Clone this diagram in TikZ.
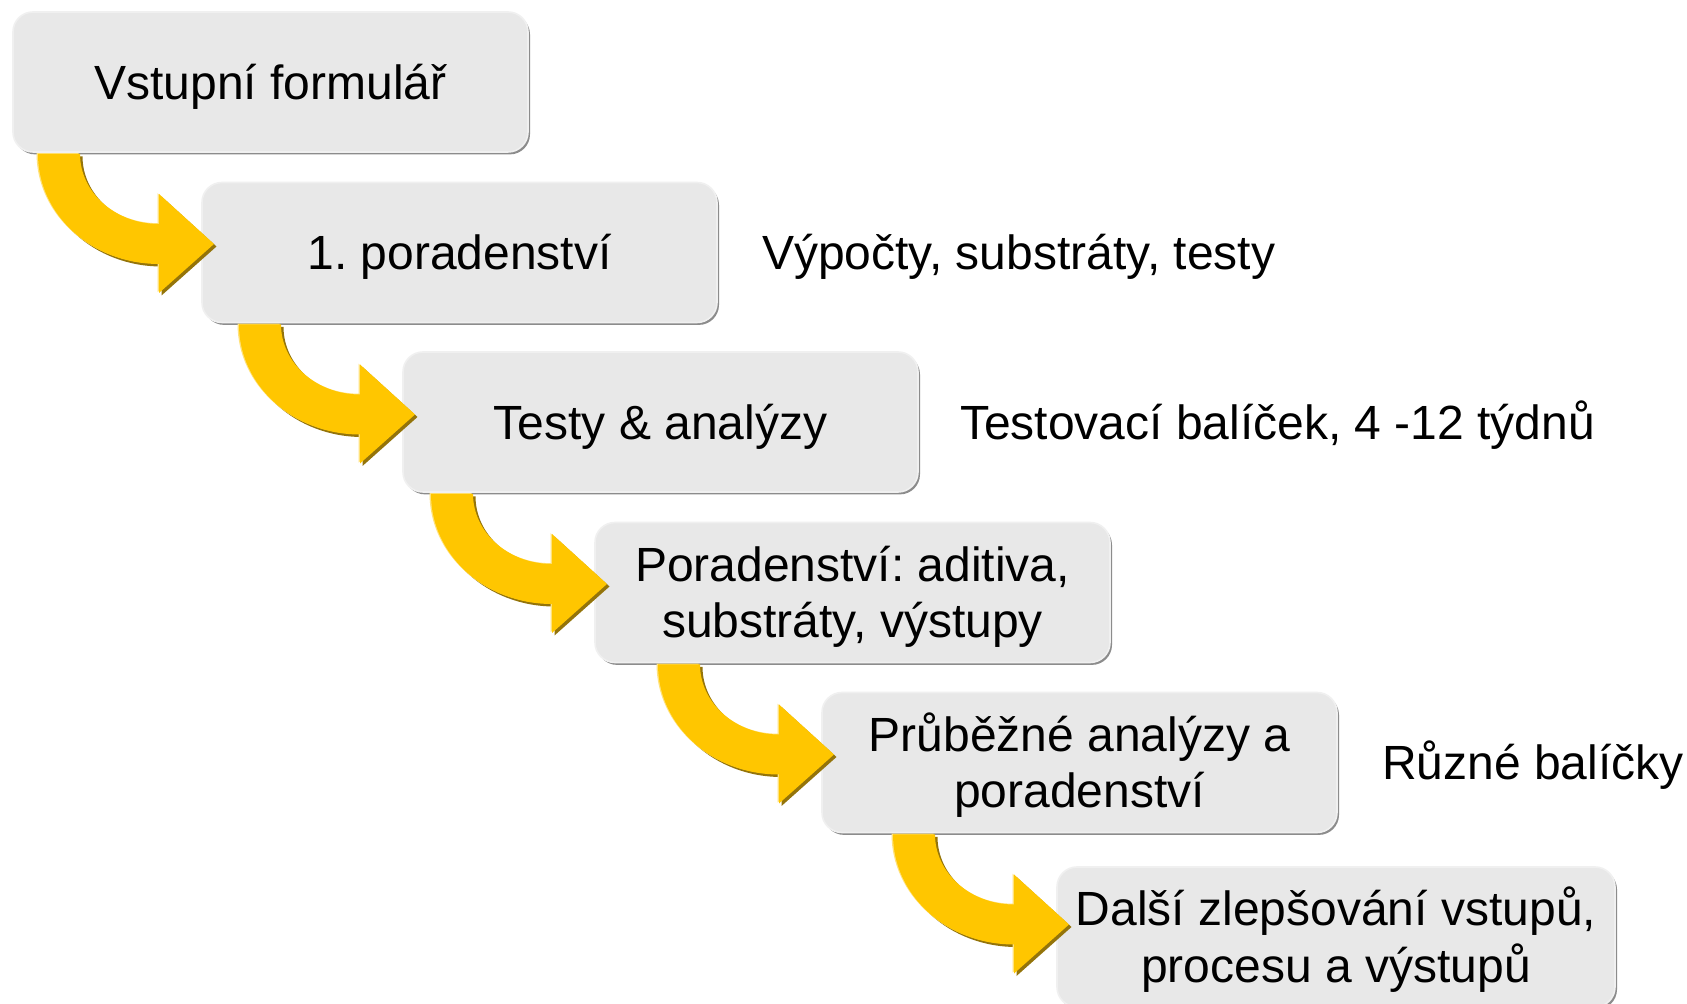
\documentclass[tikz,border=0pt]{standalone}
\usepackage{fontspec}
\setmainfont{Liberation Sans}
\usetikzlibrary{calc,shadows}
\frenchspacing
\definecolor{boxfill}{HTML}{E8E8E8}
\definecolor{boxedge}{HTML}{F0F0F0}
\definecolor{boxshadow}{HTML}{8C8C8C}
\definecolor{arrowgold}{HTML}{FFC600}
\definecolor{arrowdark}{HTML}{94740A}
\definecolor{arrowlight}{HTML}{FFE27A}
\tikzset{
  stepbox/.style={rectangle, rounded corners=10pt, fill=boxfill, draw=boxedge,
    line width=0.8pt, minimum width=257.5pt, minimum height=70pt,
    inner sep=0pt, outer sep=0pt,
    general shadow={fill=boxshadow, shadow xshift=1pt, shadow yshift=-1.2pt},
    font=\fontsize{24}{28.25}\selectfont\frenchspacing, text depth=0pt},
  oneline/.style={text height=17.2pt},
  twoline/.style={text height=45.45pt},
  sidelabel/.style={anchor=base west, inner sep=0pt, outer sep=0pt,
    font=\fontsize{24}{28.25}\selectfont\frenchspacing},
  arrowpath/.style={insert path={
    ($(#1)+(-121,2)$) .. controls ($(#1)+(-121,63)$) and ($(#1)+(-67,112)$) .. ($(#1)+(0,112)$)
    -- ($(#1)+(0,141)$) -- ($(#1)+(55,92)$) -- ($(#1)+(0,42)$) -- ($(#1)+(0,72)$)
    .. controls ($(#1)+(-44,72)$) and ($(#1)+(-79,40)$) .. ($(#1)+(-79,2)$) -- cycle}}
}
\begin{document}
\begin{tikzpicture}[x=0.5pt,y=-0.5pt]
\useasboundingbox (0,0) rectangle (1687,1004);
\fill[white] (0,0) rectangle (1687,1004);

\node[stepbox, oneline] (b1) at (270.5,82) {Vstupní formulář};
\node[stepbox, oneline] (b2) at (459.5,252.5) {1. poradenství};
\node[stepbox, oneline] (b3) at (660.5,422) {Testy \& analýzy};
\node[stepbox, twoline] (b4) at (852.5,592.5)
  {\begin{tabular}[b]{@{}c@{}}Poradenství: aditiva,\\substráty, výstupy\end{tabular}};
\node[stepbox, twoline] (b5) at (1079.5,762.5)
  {\begin{tabular}[b]{@{}c@{}}Průběžné analýzy a\\poradenství\end{tabular}};
\node[stepbox, twoline, minimum width=279pt] (b6) at (1336,937)
  {\begin{tabular}[b]{@{}c@{}}Další zlepšování vstupů,\\procesu a výstupů\end{tabular}};

\node[sidelabel] (r1) at ($(b2.east)+(45,17.2)$) {Výpočty, substráty, testy};
\node[sidelabel] (r2) at ($(b3.east)+(42,17.2)$) {Testovací balíček, 4 -12 týdnů};
\node[sidelabel] (r3) at ($(b5.east)+(45,17.2)$) {Různé balíčky};

\foreach \s/\t [count=\i] in {b1/b2,b2/b3,b3/b4,b4/b5,b5/b6}{
  \coordinate (c\i) at ($(\t.west |- \s.south)+(-43,0)$);
  \coordinate (d\i) at ($(c\i)+(2.5,2.5)$);
  \coordinate (h\i) at ($(c\i)+(-1.5,-0.8)$);
  \fill[arrowdark] [arrowpath=d\i];
  \fill[arrowlight] [arrowpath=h\i];
  \fill[arrowgold] [arrowpath=c\i];
}
\end{tikzpicture}
\end{document}
